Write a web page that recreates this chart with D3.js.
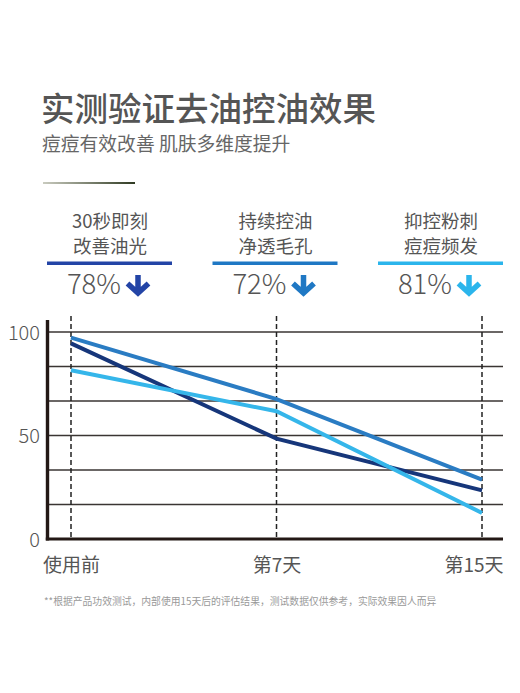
<!DOCTYPE html>
<html>
<head>
<meta charset="utf-8">
<script src="https://cdn.jsdelivr.net/npm/d3@7"></script>
<style>
  html, body { margin: 0; padding: 0; background: #fff; }
  svg { display: block; font-family: "Noto Sans CJK SC", "Noto Sans", sans-serif; }
</style>
</head>
<body>
<svg id="chart" width="520" height="693"></svg>
<script>
// chart data
var days = ["使用前", "第7天", "第15天"];
var yTicks = [0, 50, 100];
var darkSeries = [94.5, 48.5, 23.5];
var midSeries = [97.3, 67.6, 28.7];
var lightSeries = [81.5, 61.7, 12.6];

// header blocks
var headLine1 = ["30秒即刻", "持续控油", "抑控粉刺"];
var headLine2 = ["改善油光", "净透毛孔", "痘痘频发"];
var headPct = ["78%", "72%", "81%"];

var title = "实测验证去油控油效果";
var subtitle = "痘痘有效改善 肌肤多维度提升";
var footnote = "**根据产品功效测试，内部使用15天后的评估结果，测试数据仅供参考，实际效果因人而异";

var headColors = ["#2344a6", "#1f78c4", "#2bb5ec"];
var lineColors = ["#16367a", "#2a7cc3", "#35b6ea"];

var svg = d3.select("#chart");

// title block
svg.append("text")
  .attr("x", 41).attr("y", 121)
  .attr("font-size", 33.5).attr("font-weight", 500).attr("fill", "#555")
  .text(title);

svg.append("text")
  .attr("x", 42).attr("y", 151)
  .attr("font-size", 18.8).attr("fill", "#666")
  .text(subtitle);

var grad = svg.append("defs").append("linearGradient")
  .attr("id", "rule").attr("x1", "0%").attr("x2", "100%");
grad.append("stop").attr("offset", "0%").attr("stop-color", "#c9cbbf");
grad.append("stop").attr("offset", "100%").attr("stop-color", "#2f3a22");

svg.append("rect")
  .attr("x", 43).attr("y", 182).attr("width", 92).attr("height", 2)
  .attr("fill", "url(#rule)");

// header columns
var colX = d3.scalePoint().domain(d3.range(3)).range([110, 441]);

var head = svg.selectAll(".head")
  .data(d3.range(3))
  .enter().append("g")
    .attr("class", "head")
    .attr("transform", function(i) { return "translate(" + colX(i) + ",0)"; });

head.append("text")
  .attr("y", 228).attr("text-anchor", "middle")
  .attr("font-size", 18.5).attr("fill", "#555")
  .text(function(i) { return headLine1[i]; });

head.append("text")
  .attr("y", 253).attr("text-anchor", "middle")
  .attr("font-size", 18.5).attr("fill", "#555")
  .text(function(i) { return headLine2[i]; });

head.append("rect")
  .attr("x", -63).attr("y", 261.5).attr("width", 125).attr("height", 3.5)
  .attr("fill", function(i) { return headColors[i]; });

head.append("text")
  .attr("x", 11).attr("y", 294).attr("text-anchor", "end")
  .attr("font-size", 27.5).attr("font-weight", 300).attr("fill", "#555")
  .text(function(i) { return headPct[i]; });

head.append("path")
  .attr("d", "M28,275 V293 M17.5,283.5 L28,293 L38.5,283.5")
  .attr("fill", "none")
  .attr("stroke-width", 5.5)
  .attr("stroke", function(i) { return headColors[i]; });

// line chart
var x = d3.scalePoint().domain(days).range([71, 482]);
var y = d3.scaleLinear().domain([0, 100]).range([539, 332]);
var left = 47.5, right = 503;

var g = svg.append("g");

// horizontal grid
g.selectAll(".grid")
  .data(d3.range(1, 7).map(function(k) { return k * 100 / 6; }))
  .enter().append("line")
    .attr("class", "grid")
    .attr("x1", left).attr("x2", right)
    .attr("y1", function(d) { return y(d); })
    .attr("y2", function(d) { return y(d); })
    .attr("stroke", "#3a3533").attr("stroke-width", 1.3);

// dashed day lines
g.selectAll(".day")
  .data(days)
  .enter().append("line")
    .attr("class", "day")
    .attr("x1", function(d) { return x(d); })
    .attr("x2", function(d) { return x(d); })
    .attr("y1", 316).attr("y2", y(0))
    .attr("stroke", "#222").attr("stroke-width", 1.5)
    .attr("stroke-dasharray", "5,3");

// series lines
var line = d3.line()
  .x(function(d, i) { return x(days[i]); })
  .y(function(d) { return y(d); });

g.selectAll(".series")
  .data([midSeries, darkSeries, lightSeries])
  .enter().append("path")
    .attr("class", "series")
    .attr("d", line)
    .attr("fill", "none")
    .attr("stroke-width", 4)
    .attr("stroke", function(d, i) { return [lineColors[1], lineColors[0], lineColors[2]][i]; });

// axes
g.append("line")
  .attr("x1", left).attr("x2", left).attr("y1", 320).attr("y2", 540.5)
  .attr("stroke", "#231815").attr("stroke-width", 3.4);
g.append("line")
  .attr("x1", left - 1.7).attr("x2", right).attr("y1", 539).attr("y2", 539)
  .attr("stroke", "#231815").attr("stroke-width", 3);

var yAxis = d3.axisLeft(y).tickValues(yTicks).tickSize(0).tickPadding(0);
var ya = g.append("g")
  .attr("transform", "translate(40,0)")
  .call(yAxis);
ya.select(".domain").remove();
ya.selectAll("text")
  .attr("font-size", 20).attr("fill", "#555").attr("font-weight", 300)
  .attr("font-family", "'Noto Sans CJK SC', sans-serif")
  .attr("dy", "0.35em");

var xAxis = d3.axisBottom(x).tickSize(0).tickPadding(0);
var xa = g.append("g")
  .attr("transform", "translate(0,557)")
  .call(xAxis);
xa.select(".domain").remove();
xa.selectAll("text")
  .attr("font-size", 19).attr("fill", "#555")
  .attr("font-family", "'Noto Sans CJK SC', sans-serif")
  .attr("dy", "0.8em")
  .attr("text-anchor", function(d, i) { return i === days.length - 1 ? "end" : "middle"; })
  .attr("x", function(d, i) { return i === days.length - 1 ? 21 : 0; });

// footnote
svg.append("text")
  .attr("x", 44).attr("y", 605)
  .attr("font-size", 9.8).attr("fill", "#999")
  .text(footnote);
</script>
</body>
</html>
